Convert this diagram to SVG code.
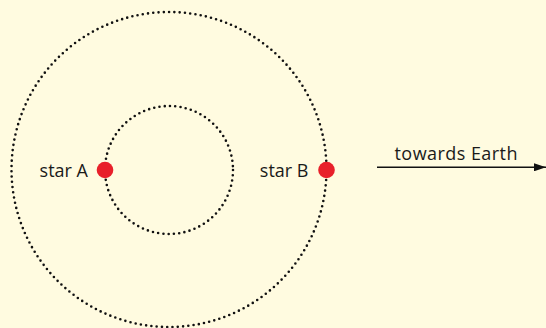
<svg xmlns="http://www.w3.org/2000/svg" width="546" height="328" viewBox="0 0 546 328">
<style>
.orbit{fill:none;stroke:#111;stroke-width:2.6;stroke-linecap:round;stroke-dasharray:0 5.3}
.star{fill:#e8202a}
.lbl{font-family:"Open Sans","Noto Sans",sans-serif;font-size:18px;fill:#1a1a1a}
</style>
<defs>
<marker id="ah" viewBox="0 0 12 8" refX="12" refY="4" markerWidth="12" markerHeight="8" markerUnits="userSpaceOnUse" orient="auto">
<path d="M0,0 L12,4 L0,8 Z" fill="#111"/>
</marker>
</defs>
<rect width="546" height="328" fill="#fffbe0"/>
<g id="orbits">
<circle id="outer-orbit" class="orbit" cx="169" cy="169.5" r="157.5"/>
<circle id="inner-orbit" class="orbit" cx="169" cy="170" r="64"/>
</g>
<g id="starA">
<circle class="star" cx="105" cy="170" r="8.3"/>
<text class="lbl" x="88" y="176.5" text-anchor="end">star A</text>
</g>
<g id="starB">
<circle class="star" cx="326.5" cy="170" r="8.3"/>
<text class="lbl" x="308.5" y="176.5" text-anchor="end">star B</text>
</g>
<g id="connectors">
<line x1="377" y1="167.3" x2="546" y2="167.3" stroke="#111" stroke-width="1.4" marker-end="url(#ah)"/>
</g>
<g id="label-earth">
<text class="lbl" x="456" y="159.5" text-anchor="middle" textLength="123" lengthAdjust="spacing">towards Earth</text>
</g>
</svg>
